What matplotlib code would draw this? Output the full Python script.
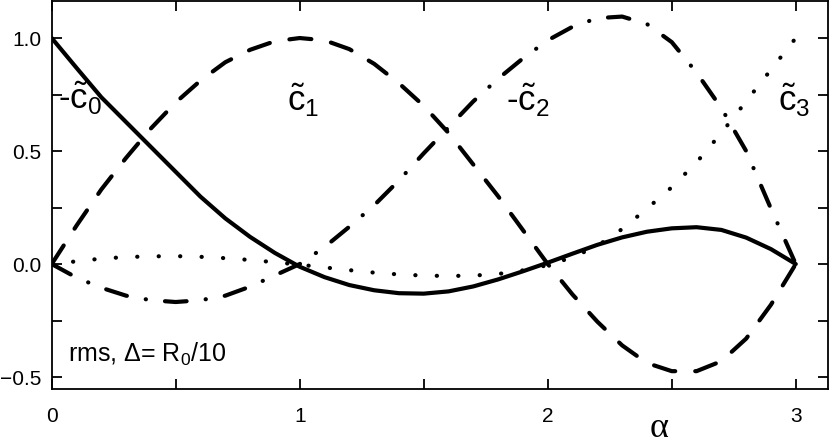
import matplotlib
matplotlib.use("Agg")
import matplotlib.pyplot as plt
import matplotlib.transforms as mtransforms
from matplotlib.ticker import MultipleLocator, FixedLocator

plt.rcParams['font.family'] = ['Liberation Sans', 'DejaVu Sans']
plt.rcParams['mathtext.fontset'] = 'custom'
plt.rcParams['mathtext.rm'] = 'Liberation Sans'
plt.rcParams['mathtext.it'] = 'Liberation Sans'
# tick style set up front
for a in ("xtick", "ytick"):
    plt.rcParams[a + ".direction"] = "in"
    for w in ("major", "minor"):
        plt.rcParams[f"{a}.{w}.size"] = 7.5
        plt.rcParams[f"{a}.{w}.width"] = 1.3
plt.rcParams["xtick.top"] = True
plt.rcParams["ytick.right"] = True
plt.rcParams["axes.linewidth"] = 1.3

# values (alpha grid 0, 0.1, ..., 3.0)
alpha = [0.0, 0.1, 0.2, 0.3, 0.4, 0.5, 0.6, 0.7, 0.8, 0.9, 1.0,
         1.1, 1.2, 1.3, 1.4, 1.5, 1.6, 1.7, 1.8, 1.9, 2.0,
         2.1, 2.2, 2.3, 2.4, 2.5, 2.6, 2.7, 2.8, 2.9, 3.0]
c0 = [1.0, 0.868, 0.738, 0.628, 0.518, 0.408, 0.298, 0.202, 0.12, 0.049, -0.012,
      -0.058, -0.093, -0.116, -0.129, -0.131, -0.121, -0.099, -0.068, -0.032, 0.006,
      0.046, 0.085, 0.118, 0.143, 0.158, 0.163, 0.151, 0.117, 0.066, 0.0]
c1 = [0.0, 0.17, 0.33, 0.47, 0.6, 0.715, 0.812, 0.893, 0.948, 0.986, 1.0,
      0.99, 0.951, 0.886, 0.8, 0.7, 0.58, 0.44, 0.3, 0.15, 0.0,
      -0.135, -0.255, -0.36, -0.438, -0.474, -0.474, -0.43, -0.33, -0.18, 0.0]
c2 = [0.0, -0.06, -0.105, -0.14, -0.16, -0.168, -0.16, -0.14, -0.1, -0.05, 0.0,
      0.075, 0.165, 0.26, 0.37, 0.49, 0.605, 0.72, 0.82, 0.91, 0.99,
      1.05, 1.088, 1.095, 1.062, 0.982, 0.847, 0.69, 0.5, 0.245, 0.0]
c3 = [0.0, 0.012, 0.024, 0.031, 0.034, 0.035, 0.032, 0.026, 0.018, 0.008, -0.003,
      -0.015, -0.027, -0.038, -0.046, -0.051, -0.053, -0.051, -0.044, -0.028, -0.005,
      0.03, 0.08, 0.155, 0.245, 0.34, 0.45, 0.58, 0.72, 0.86, 1.0]

x_ticks = [0, 1, 2, 3]
x_labels = ["0", "1", "2", "3"]
y_ticks = [-0.5, 0.0, 0.5, 1.0]
y_labels = ["\u22120.5", "0.0", "0.5", "1.0"]

fig = plt.figure(figsize=(8.3, 4.45), dpi=100)
ax = fig.add_axes([0.0623, 0.1258, 0.9353, 0.872])

lw = 3.0
ax.plot(alpha, c0, color="black", lw=lw, solid_capstyle="round",
        solid_joinstyle="round")
ax.plot(alpha, c1, color="black", lw=lw, dashes=(5.3, 4.8), dash_capstyle="round")
ax.plot(alpha, c2, color="black", lw=lw, dashes=(5.2, 4.6, 0.05, 4.6),
        dash_capstyle="round")
ax.plot(alpha, c3, color="black", lw=lw, dashes=(0.05, 5.1), dash_capstyle="round")

ax.set_xlim(0, 3.13)
ax.set_ylim(-0.553, 1.164)

ax.xaxis.set_major_locator(FixedLocator(x_ticks))
ax.xaxis.set_minor_locator(MultipleLocator(0.5))
ax.yaxis.set_major_locator(FixedLocator(y_ticks))
ax.yaxis.set_minor_locator(MultipleLocator(0.25))
ax.tick_params(labelbottom=False, labelleft=False)

# tick labels as plain texts so their size stays fixed
xoff = ax.get_xaxis_transform() + mtransforms.ScaledTranslation(0, -23.8 / 72,
                                                               fig.dpi_scale_trans)
for xv, lab in zip(x_ticks, x_labels):
    ax.text(xv, 0, lab, transform=xoff, fontsize=15, ha="center", va="baseline",
            clip_on=False)
yoff = ax.get_yaxis_transform() + mtransforms.ScaledTranslation(-7.7 / 72, -5.4 / 72,
                                                               fig.dpi_scale_trans)
for yv, lab in zip(y_ticks, y_labels):
    ax.text(0, yv, lab, transform=yoff, fontsize=15, ha="right", va="baseline",
            clip_on=False)

# curve labels
fs = 25
ax.text(0.025, 0.735, r"-$\tilde{\mathrm{c}}_0$", fontsize=fs, va="center", ha="left")
ax.text(0.95, 0.725, r"$\tilde{\mathrm{c}}_1$", fontsize=fs, va="center", ha="left")
ax.text(1.83, 0.725, r"-$\tilde{\mathrm{c}}_2$", fontsize=fs, va="center", ha="left")
ax.text(2.93, 0.725, r"$\tilde{\mathrm{c}}_3$", fontsize=fs, va="center", ha="left")

ax.text(0.065, -0.4, r"rms, $\Delta$= R$_0$/10", fontsize=18, va="center", ha="left")

ax.text(2.45, -0.765, "\u03b1", fontsize=26, family=["Liberation Serif", "DejaVu Serif"],
        ha="center", va="baseline")

fig.savefig("out.png", dpi=100)
